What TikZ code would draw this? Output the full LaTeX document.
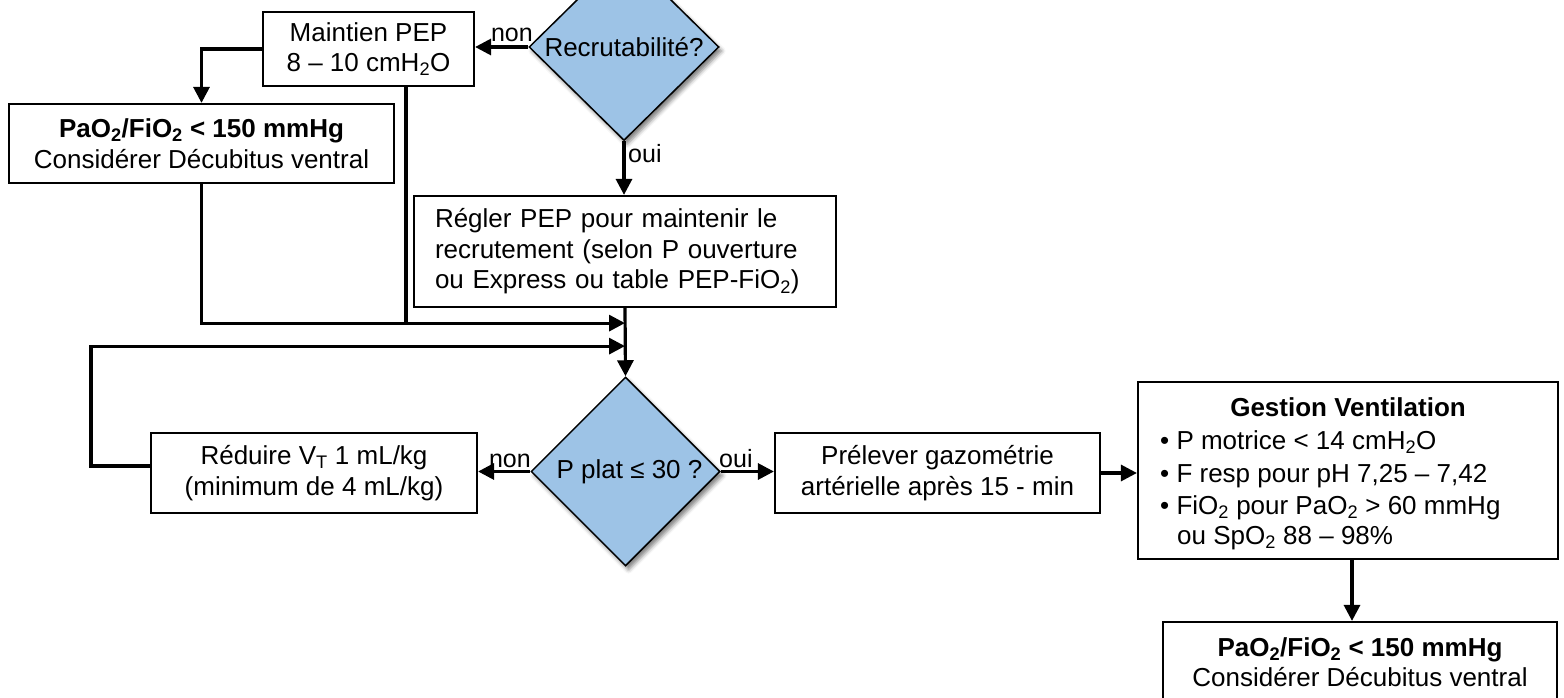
\documentclass[tikz,border=0pt]{standalone}
\usepackage{fontspec}
\setmainfont{Liberation Sans}
\usetikzlibrary{shapes.geometric,arrows.meta,shadows.blur,calc}
\definecolor{diafill}{RGB}{157,195,230}
\newcommand\sbs[1]{\textsubscript{#1}}
\begin{document}
\begin{tikzpicture}[x=1pt,y=-1pt,
  every node/.style={font=\fontsize{26}{30.5}\selectfont},
  box/.style={draw, line width=2.2pt, fill=white, inner sep=0pt, align=center},
  dia/.style={diamond, draw, line width=1.5pt, fill=diafill, inner sep=0pt,
    blur shadow={shadow xshift=3pt, shadow yshift=-4pt, shadow blur radius=4pt, shadow opacity=50}},
  conn/.style={line width=3.2pt, -{Triangle[length=16pt,width=16pt]}},
  plain/.style={line width=3.2pt},
  lbl/.style={inner sep=0pt, font=\fontsize{25}{30}\selectfont},
  txt/.style={inner sep=0pt}]
\useasboundingbox (0,0) rectangle (1564,698);
\clip (0,0) rectangle (1564,698);

% boxes
\node[box, minimum width=211pt, minimum height=74pt] (maintien) at (368.5,49)
  {Maintien PEP\\8 -- 10 cmH\sbs{2}O};
\node[box, minimum width=385pt, minimum height=79pt] (pao1) at (201.5,143.5)
  {\textbf{PaO\sbs{2}/FiO\sbs{2} < 150 mmHg}\\Considérer Décubitus ventral};
\node[box, text width=380pt, inner xsep=21pt, minimum height=111pt, align=left] (regler) at (625,251.5)
  {Régler PEP pour maintenir le\\recrutement (selon P ouverture\\ou Express ou table PEP-FiO\sbs{2})};
\node[box, minimum width=326pt, minimum height=80pt] (reduire) at (314,473)
  {Réduire V\sbs{T} 1 mL/kg\\(minimum de 4 mL/kg)};
\node[box, minimum width=325pt, minimum height=80pt] (prelever) at (937.5,473)
  {Prélever gazométrie\\artérielle après 15 - min};
\node[box, minimum width=420pt, minimum height=177pt] (gestion) at (1348,470.5) {};
\node[txt, font=\fontsize{26}{30.5}\selectfont\bfseries] (gtitle) at (1348,407) {Gestion Ventilation};
\node[txt, anchor=base west] (g1) at (1160,449) {• P motrice < 14 cmH\sbs{2}O};
\node[txt, anchor=base west] (g2) at (1160,482) {• F resp pour pH 7,25 -- 7,42};
\node[txt, anchor=base west] (g3) at (1160,514) {• FiO\sbs{2} pour PaO\sbs{2} > 60 mmHg};
\node[txt, anchor=base west] (g4) at (1177,544) {ou SpO\sbs{2} 88 -- 98\%};
\node[box, minimum width=394pt, minimum height=80pt] (pao2) at (1360,662)
  {\textbf{PaO\sbs{2}/FiO\sbs{2} < 150 mmHg}\\Considérer Décubitus ventral};

% diamonds
\node[dia, minimum width=190pt, minimum height=187pt] (d1) at (624,47) {};
\node[txt] (d1t) at (d1.center) {Recrutabilité?};
\node[dia, minimum width=189pt, minimum height=189pt] (d2) at (625.5,471.5) {};
\node[txt] (d2t) at ([xshift=4pt]d2.center) {P plat ≤ 30 ?};

% junction points
\path (regler.south) ++(0,15) coordinate (j1) ++(0,23) coordinate (j2);
\coordinate (r1) at ($(reduire.west)+(0,-7)$);

% connectors
\draw[conn] (d1.west) -- (maintien.east |- d1.west);
\draw[conn] (d1.south) -- (d1.south |- regler.north);
\draw[conn] (maintien.west) -| (pao1.north);
\draw[plain] ([xshift=37.5pt]maintien.south) -- ([xshift=37.5pt]maintien.south |- j1);
\draw[conn] (pao1.south) |- (j1);
\draw[conn] (regler.south) -- (d2.north);
\draw[conn] (r1) -- ++(-59,0) |- (j2);
\draw[conn] (d2.west) -- (reduire.east |- d2.west);
\draw[conn] (d2.east) -- (prelever.west |- d2.east);
\draw[conn] (prelever.east) -- (gestion.west |- prelever.east);
\draw[conn] ([xshift=4pt]gestion.south) -- ([xshift=4pt]gestion.south |- pao2.north);

% labels
\node[lbl, anchor=base east] (l1) at (533,42) {non};
\node[lbl, anchor=base west] (l2) at (628,163) {oui};
\node[lbl, anchor=base east] (l3) at (531,467) {non};
\node[lbl, anchor=base west] (l4) at (719,467) {oui};
\end{tikzpicture}
\end{document}
